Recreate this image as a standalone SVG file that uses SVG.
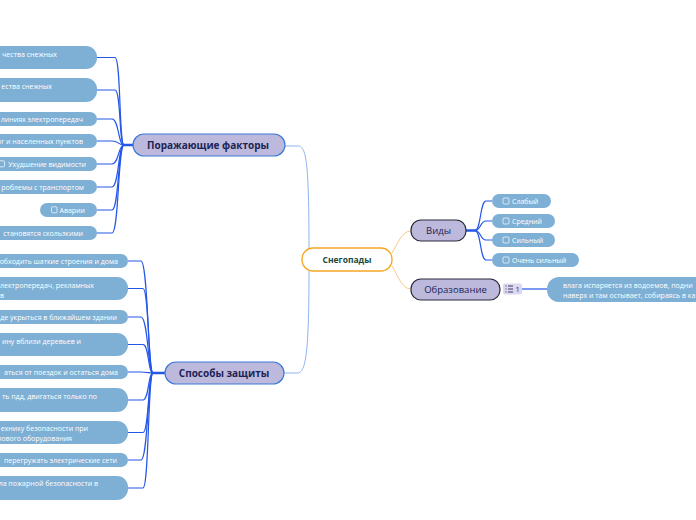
<svg xmlns="http://www.w3.org/2000/svg" width="696" height="520" viewBox="0 0 696 520">
<style>
.leaf{fill:#7eafd5}
.lt{font-family:"Open Sans","Noto Sans",sans-serif;font-size:7px;fill:#ffffff}
.main{fill:#bdb9dc;stroke:#3a7ad8;stroke-width:1.2}
.sub{fill:#bdb9dc;stroke:#2a2a3a;stroke-width:1.2}
.mt{font-family:"Open Sans","Noto Sans",sans-serif;font-size:10px;font-weight:bold;fill:#1c2455}
.st{font-family:"Open Sans","Noto Sans",sans-serif;font-size:9.5px;fill:#1c2455}
.cb{fill:none;stroke:#ffffff;stroke-width:0.7}
.c{fill:none;stroke:#2456e8;stroke-width:1.2}
.ct{fill:none;stroke:#2456e8;stroke-width:2.5}
.cl{fill:none;stroke:#8fb3ee;stroke-width:1}
.co{fill:none;stroke:#f8c98a;stroke-width:1}
</style>
<g id="connectors">
<path class="cl" d="M285,146 H298 C306,146 309,160 309,249"/>
<path class="cl" d="M284,373 H297 C305,373 309,360 309,271"/>
<path class="co" d="M392,253 C398,243 402,231 411,231"/>
<path class="co" d="M392,266 C398,276 402,289 411,289"/>
<path class="c" d="M97,57.5 H115 C121,57.5 119,145 124,145"/>
<path class="c" d="M97,90 H115 C121,90 119,145 124,145"/>
<path class="c" d="M97,119 H112 C119,119 118,145 124,145"/>
<path class="c" d="M97,141 H112 C119,141 118,145 124,145"/>
<path class="c" d="M97,164 H112 C119,164 118,145 124,145"/>
<path class="c" d="M97,187 H112 C119,187 118,145 124,145"/>
<path class="c" d="M97,210 H112 C119,210 118,145 124,145"/>
<path class="c" d="M97,233 H112 C119,233 118,145 124,145"/>
<path class="ct" d="M122,145 H133"/>
<path class="c" d="M128,261 H141 C148,261 148,373 153,373"/>
<path class="c" d="M128,288.5 H143 C149,288.5 148,373 153,373"/>
<path class="c" d="M128,317 H141 C148,317 148,373 153,373"/>
<path class="c" d="M128,344.5 H143 C149,344.5 148,373 153,373"/>
<path class="c" d="M128,372 H141 C148,372 148,373 153,373"/>
<path class="c" d="M128,400 H143 C149,400 148,373 153,373"/>
<path class="c" d="M128,432.5 H143 C149,432.5 148,373 153,373"/>
<path class="c" d="M128,460 H141 C148,460 148,373 153,373"/>
<path class="c" d="M128,488 H143 C149,488 148,373 153,373"/>
<path class="ct" d="M151,373 H165"/>
<path class="ct" d="M466,230.5 H476"/>
<path class="c" d="M475,230.5 C481,230.5 480,201 486,201 H492"/>
<path class="c" d="M475,230.5 C481,230.5 480,221 486,221 H492"/>
<path class="c" d="M475,230.5 C481,230.5 480,240 486,240 H492"/>
<path class="c" d="M475,230.5 C481,230.5 480,260 486,260 H492"/>
<path class="c" d="M522,289 H547"/>
</g>
<g id="center">
<rect x="302" y="248" width="90" height="23" rx="11" fill="#ffffff" stroke="#f5a623" stroke-width="1.3"/>
<text x="347" y="262.5" text-anchor="middle" font-family="'Open Sans','Noto Sans',sans-serif" font-size="8.5" font-weight="bold" fill="#1d4a3c">Снегопады</text>
</g>
<g id="factors">
<rect class="main" x="133" y="134" width="152" height="22" rx="11"/>
<text class="mt" x="208" y="148.8" text-anchor="middle">Поражающие факторы</text>
</g>
<g id="protection">
<rect class="main" x="165" y="362" width="119" height="22" rx="11"/>
<text class="mt" x="224" y="376.8" text-anchor="middle">Способы защиты</text>
</g>
<g id="vidy">
<rect class="sub" x="411" y="220" width="55" height="21" rx="10"/>
<text class="st" x="438.5" y="234" text-anchor="middle">Виды</text>
</g>
<g id="obrazovanie">
<rect class="sub" x="411" y="279" width="89" height="21" rx="10"/>
<text class="st" x="455.5" y="293" text-anchor="middle">Образование</text>
</g>
<g id="badge">
<rect x="503" y="283.5" width="19" height="11" rx="2" fill="#dcd8ef"/>
<g stroke="#2a2a55" stroke-width="0.9">
<path d="M505.5,286 h1 M505.5,289 h1 M505.5,292 h1 M508,286 h5 M508,289 h5 M508,292 h5"/>
</g>
<text x="515.5" y="292" font-family="'Open Sans','Noto Sans',sans-serif" font-size="7.5" fill="#2a2a55">1</text>
</g>
<g id="f1"><rect class="leaf" x="-200" y="46" width="297" height="23" rx="11"/><text class="lt" x="57" y="56.5" text-anchor="end">чества снежных</text></g>
<g id="f2"><rect class="leaf" x="-200" y="78" width="297" height="24" rx="11"/><text class="lt" x="52" y="89" text-anchor="end">ества снежных</text></g>
<g id="f3"><rect class="leaf" x="-200" y="112" width="297" height="14" rx="7"/><text class="lt" x="83" y="121.5" text-anchor="end">линиях электропередач</text></g>
<g id="f4"><rect class="leaf" x="-200" y="134" width="297" height="14" rx="7"/><text class="lt" x="83" y="143.5" text-anchor="end">ог и населенных пунктов</text></g>
<g id="f5"><rect class="leaf" x="-200" y="157" width="297" height="14" rx="7"/><rect class="cb" x="-1" y="160.8" width="5.5" height="6" rx="1"/><text class="lt" x="86" y="166.5" text-anchor="end">Ухудшение видимости</text></g>
<g id="f6"><rect class="leaf" x="-200" y="180" width="297" height="14" rx="7"/><text class="lt" x="84" y="189.5" text-anchor="end">роблемы с транспортом</text></g>
<g id="f7"><rect class="leaf" x="40" y="203" width="57" height="14" rx="7"/><rect class="cb" x="51.5" y="206.8" width="5.5" height="6" rx="1"/><text class="lt" x="85" y="212.5" text-anchor="end">Аварии</text></g>
<g id="f8"><rect class="leaf" x="-200" y="226" width="297" height="14" rx="7"/><text class="lt" x="83" y="235.5" text-anchor="end">становятся скользкими</text></g>
<g id="p1"><rect class="leaf" x="-200" y="254" width="328" height="14" rx="7"/><text class="lt" x="118" y="263.5" text-anchor="end">обходить шаткие строения и дома</text></g>
<g id="p2"><rect class="leaf" x="-200" y="277" width="328" height="23" rx="11"/><text class="lt" x="94" y="287.5" text-anchor="end">лектропередач, рекламных</text><text class="lt" x="4" y="297.5" text-anchor="end">в</text></g>
<g id="p3"><rect class="leaf" x="-200" y="310" width="328" height="14" rx="7"/><text class="lt" x="117" y="319.5" text-anchor="end">де укрыться в ближайшем здании</text></g>
<g id="p4"><rect class="leaf" x="-200" y="333" width="328" height="23" rx="11"/><text class="lt" x="81" y="343.5" text-anchor="end">ину вблизи деревьев и</text></g>
<g id="p5"><rect class="leaf" x="-200" y="365" width="328" height="14" rx="7"/><text class="lt" x="118" y="374.5" text-anchor="end">аться от поездок и остаться дома</text></g>
<g id="p6"><rect class="leaf" x="-200" y="388" width="328" height="24" rx="11"/><text class="lt" x="97" y="398.5" text-anchor="end">ть пдд, двигаться только по</text></g>
<g id="p7"><rect class="leaf" x="-200" y="421" width="328" height="23" rx="11"/><text class="lt" x="88" y="430.5" text-anchor="end">ехнику безопасности при</text><text class="lt" x="72" y="440.5" text-anchor="end">азового оборудования</text></g>
<g id="p8"><rect class="leaf" x="-200" y="453" width="328" height="14" rx="7"/><text class="lt" x="117" y="462.5" text-anchor="end">перегружать электрические сети</text></g>
<g id="p9"><rect class="leaf" x="-200" y="476" width="328" height="24" rx="11"/><text class="lt" x="98" y="485.5" text-anchor="end">ла пожарной безопасности в</text></g>
<g id="v1"><rect class="leaf" x="492" y="194" width="59" height="14" rx="7"/><rect class="cb" x="503" y="198" width="6" height="6" rx="1"/><text class="lt" x="512" y="203.5">Слабый</text></g>
<g id="v2"><rect class="leaf" x="492" y="214" width="63" height="14" rx="7"/><rect class="cb" x="503" y="218" width="6" height="6" rx="1"/><text class="lt" x="512" y="223.5">Средний</text></g>
<g id="v3"><rect class="leaf" x="492" y="233" width="63" height="14" rx="7"/><rect class="cb" x="503" y="237" width="6" height="6" rx="1"/><text class="lt" x="512" y="242.5">Сильный</text></g>
<g id="v4"><rect class="leaf" x="492" y="253" width="87" height="14" rx="7"/><rect class="cb" x="503" y="257" width="6" height="6" rx="1"/><text class="lt" x="512" y="262.5">Очень сильный</text></g>
<g id="o1"><rect class="leaf" x="547" y="277" width="300" height="25" rx="12"/><text class="lt" x="563" y="287.5">влага испаряется из водоемов, подни</text><text class="lt" x="563" y="297.5">наверх и там остывает, собираясь в ка</text></g>
</svg>
